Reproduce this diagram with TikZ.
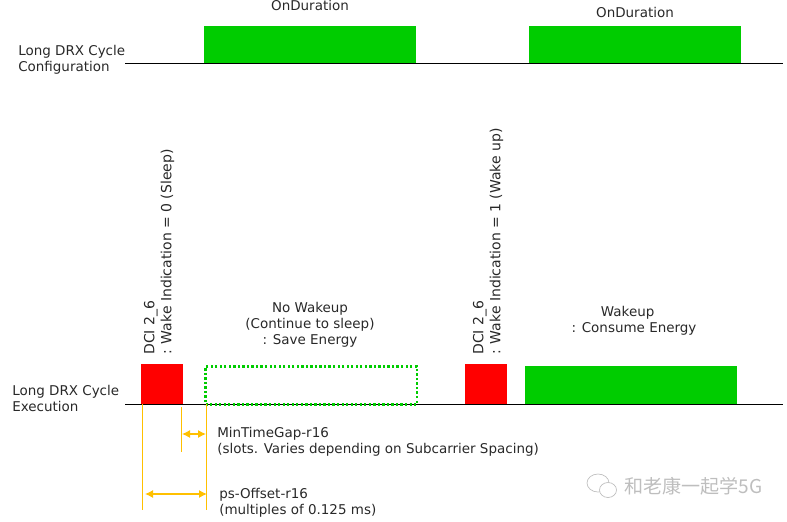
\documentclass[tikz,border=0pt]{standalone}
\usepackage{fontspec}
\usepackage{xcolor}
\setmainfont{DejaVu Sans}
\newfontfamily\cjkfont{Noto Sans CJK SC}
\usetikzlibrary{arrows.meta, positioning, calc}
\definecolor{cGreen}{RGB}{0,204,0}
\definecolor{cRed}{RGB}{255,0,0}
\definecolor{cYellow}{RGB}{255,192,0}
\definecolor{cText}{RGB}{40,40,40}
\definecolor{cMark}{RGB}{190,190,190}
\tikzset{
	label/.style={font=\fontsize{10.1}{12}\selectfont, text=cText, align=left, inner sep=0pt},
	midlabel/.style={label, align=center},
	sidelabel/.style={label, font=\fontsize{10.5}{12.8}\selectfont, rotate=90, anchor=south west},
	onbox/.style={fill=cGreen, minimum width=159pt, minimum height=28pt, inner sep=0pt, anchor=south west},
	runbox/.style={onbox, minimum height=28.5pt},
	dcibox/.style={fill=cRed, minimum width=31.5pt, minimum height=30pt, inner sep=0pt, anchor=south west},
	sleepbox/.style={draw=cGreen, line width=1.7pt, dash pattern=on 1.7pt off 1.7pt, minimum width=158.5pt, minimum height=28.5pt, inner sep=0pt, outer sep=0pt, anchor=south west},
	timeline/.style={line width=0.8pt, black},
	gapline/.style={line width=0.9pt, cYellow},
	gaparrow/.style={{Latex[length=6pt,width=6pt]}-{Latex[length=6pt,width=6pt]}, line width=0.9pt, cYellow},
}
\begin{document}
\begin{tikzpicture}[x=0.75pt, y=-0.75pt]
	\useasboundingbox (0,0) rectangle (787,521);
	% configuration row
	\coordinate (cfgL) at (125,63.5);
	\coordinate (cfgR) at (783,63.5);
	\node[onbox] (on1) at (204,63.5) {};
	\node[onbox] (on2) at (529,63.5) {};
	\draw[timeline] (cfgL) -- (cfgR);
	\node[midlabel] (on1t) at (310,5) {OnDuration};
	\node[midlabel] (on2t) at (635,12) {OnDuration};
	\node[label, anchor=west] (cfgt) at (18,60) {Long DRX Cycle\\Configuration};
	% execution row
	\coordinate (runL) at (125,404.5);
	\coordinate (runR) at (783,404.5);
	\node[dcibox] (dci1) at (141,404.5) {};
	\node[dcibox] (dci2) at (465,404.5) {};
	\node[runbox] (wake) at (525,404.5) {};
	\draw[timeline] (runL) -- (runR);
	\node[sleepbox] (nowake) at (205.5,404.5) {};
	\node[label, anchor=west] (runt) at (12,398) {Long DRX Cycle\\Execution};
	\node[sidelabel] (dci1t) at (174.5,355) {DCI 2\_6\\: Wake Indication = 0 (Sleep)};
	\node[sidelabel] (dci2t) at (503.5,355) {DCI 2\_6\\: Wake Indication = 1 (Wake up)};
	\node[midlabel] (nowaket) at (310,325) {No Wakeup\\(Continue to sleep)\\: Save Energy};
	\node[midlabel] (waket) at (634,321) {Wakeup\hspace*{9.5pt}\\: Consume Energy};
	% timing marks
	\coordinate (a1) at (142.5,404);
	\coordinate (a2) at (142.5,510);
	\coordinate (b1) at (206.5,404);
	\coordinate (b2) at (206.5,510);
	\coordinate (c1) at (181.5,407);
	\coordinate (c2) at (181.5,452);
	\coordinate (g1) at (182,434);
	\coordinate (g2) at (206,434);
	\coordinate (o1) at (145,494);
	\coordinate (o2) at (207,494);
	\draw[gapline] (a1) -- (a2);
	\draw[gapline] (b1) -- (b2);
	\draw[gapline, line width=1.1pt] (c1) -- (c2);
	\draw[gaparrow] (g1) -- (g2);
	\draw[gaparrow] (o1) -- (o2);
	\node[label, anchor=west] (gapt) at (217,441.5) {MinTimeGap-r16\\(slots. Varies depending on Subcarrier Spacing)};
	\node[label, anchor=west] (offt) at (219,502.5) {ps-Offset-r16\\(multiples of 0.125 ms)};
	% watermark
	\draw[cMark, line width=0.5pt, fill=white] (598,483) ellipse (11 and 9);
	\draw[cMark, line width=0.5pt, fill=white] (608,490) ellipse (8.5 and 7.5);
	\node[font=\cjkfont\fontsize{14.3}{16}\selectfont, text=cMark, anchor=west, inner sep=0pt] (markt) at (624,486.5) {和老康一起学5G};
\end{tikzpicture}
\end{document}
